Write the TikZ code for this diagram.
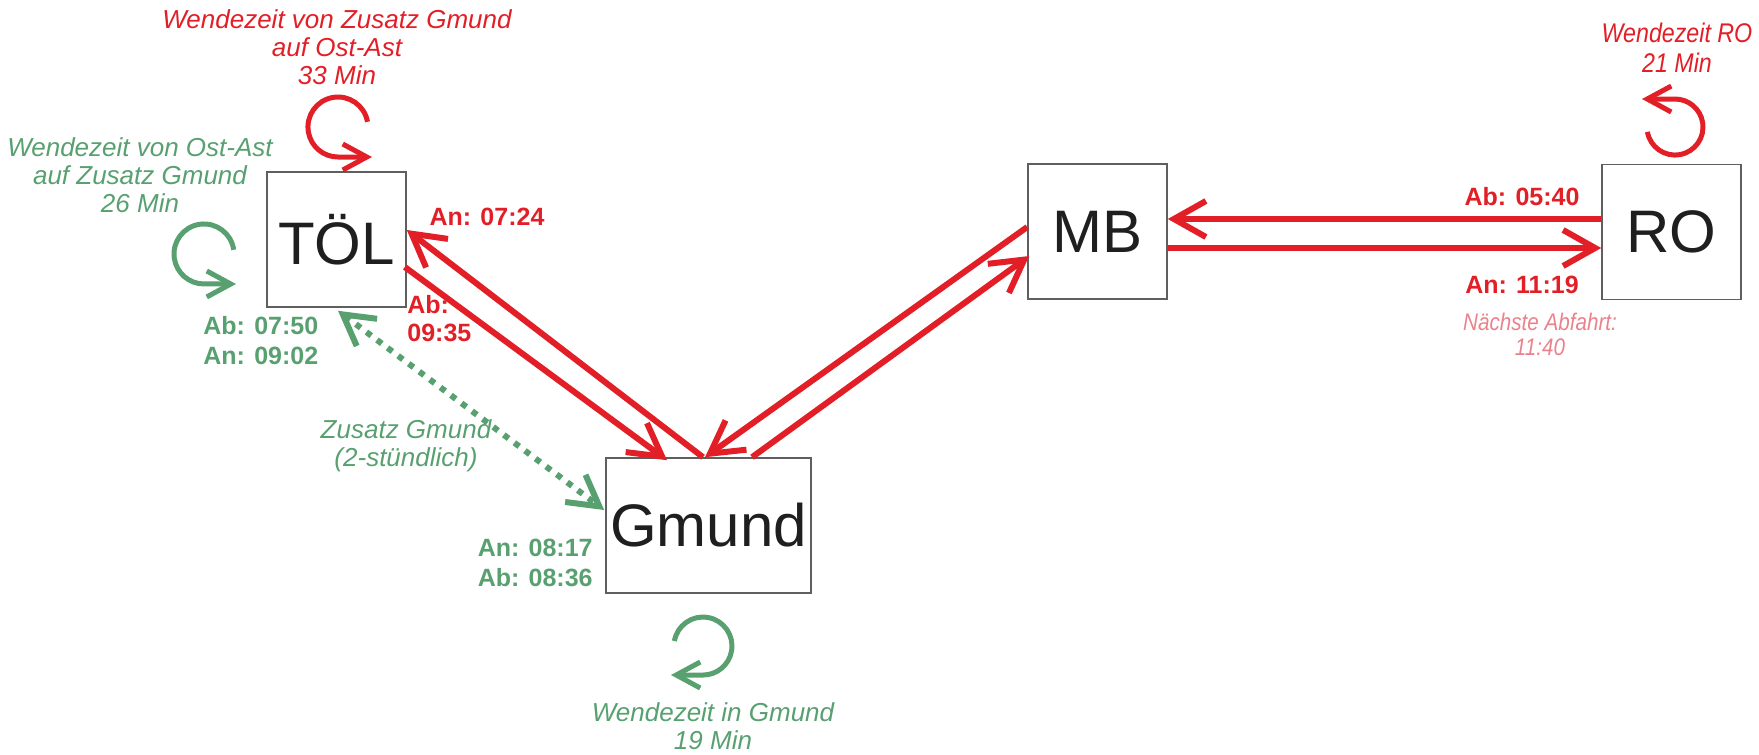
\documentclass[tikz,border=0pt]{standalone}
\usepackage{fontspec}
\setmainfont{Liberation Sans}
\newfontfamily\narrowfont[FakeStretch=0.86]{Liberation Sans}
\usetikzlibrary{arrows.meta,calc}
\definecolor{rred}{RGB}{226,30,38}
\definecolor{ggreen}{RGB}{88,160,112}
\definecolor{ppink}{RGB}{234,130,140}
\definecolor{boxgray}{RGB}{95,95,95}
\begin{document}
\begin{tikzpicture}[x=0.5pt,y=0.5pt,
  station/.style={draw=boxgray,line width=0.8pt,fill=white,inner sep=0pt,
    minimum width=69.5pt,minimum height=67.5pt,
    font=\fontsize{30}{36}\selectfont,text=black!88},
  bigarrow/.style={draw=rred,line width=3pt,-{Straight Barb[length=16pt,width=18pt]}},
  looparrow/.style={line width=2.5pt,-{Straight Barb[length=12pt,width=13pt]}},
  zusatz/.style={draw=ggreen,line width=3pt,dash pattern=on 3pt off 3.6pt,
    {Straight Barb[length=15pt,width=17pt]}-{Straight Barb[length=15pt,width=17pt]}},
  timered/.style={text=rred,inner sep=0pt,font=\fontsize{12.5}{14}\selectfont\bfseries},
  timegreen/.style={text=ggreen,inner sep=0pt,font=\fontsize{12.5}{15}\selectfont\bfseries},
  notered/.style={text=rred,inner sep=0pt,align=center,font=\fontsize{13}{14}\selectfont\itshape},
  notegreen/.style={text=ggreen,inner sep=0pt,align=center,font=\fontsize{13}{14}\selectfont\itshape},
  notenarrow/.style={inner sep=0pt,align=center,font=\narrowfont\itshape}
]
\useasboundingbox (0,0) rectangle (1759,-754);

% stations
\node[station] (tol) at (336.5,-239.5) {TÖL};
\node[station,minimum width=102.5pt] (gmund) at (708.5,-525.5) {Gmund};
\node[station] (mb) at (1097.5,-231.5) {MB};
\node[station] (ro) at (1671.5,-232) {RO};

% red connectors
\draw[bigarrow] ($(gmund.north)+(-5.5,0)$) -- ($(tol.east)+(0,9.5)$);
\draw[bigarrow] ($(tol.east)+(-2,-27.5)$) -- ($(gmund.north)+(-41.5,-3)$);
\draw[bigarrow] ($(mb.west)+(0,4.5)$) -- ($(gmund.north)+(-3.5,0)$);
\draw[bigarrow] ($(gmund.north)+(43.5,0)$) -- ($(mb.west)+(2,-24.5)$);
\draw[bigarrow] ($(ro.west)+(0,13)$) -- ($(mb.east)+(0,12.5)$);
\draw[bigarrow] ($(mb.east)+(0,-16.5)$) -- ($(ro.west)+(0,-16)$);

% green dotted connector
\draw[zusatz] ($(tol.south)+(1.5,-3)$) -- ($(gmund.west)+(-1,15.5)$);

% turnaround loops
\draw[looparrow,rred] (367.5,-121.8) arc[start angle=10,end angle=270,radius=30] -- (372,-157);
\draw[looparrow,ggreen] (233.7,-249.8) arc[start angle=8,end angle=270,radius=30] -- (236,-284);
\draw[looparrow,ggreen] (674.4,-641) arc[start angle=170,end angle=-90,radius=29] -- (671,-675);
\draw[looparrow,rred] (1647.4,-131.9) arc[start angle=190,end angle=450,radius=28] -- (1642,-99);

% loop notes
\node[notered] (n1) at (337,-47.5) {Wendezeit von Zusatz Gmund\\auf Ost-Ast\\33 Min};
\node[notegreen] (n2) at (140,-175) {Wendezeit von Ost-Ast\\auf Zusatz Gmund\\26 Min};
\node[notegreen] (n3) at (713,-726) {Wendezeit in Gmund\\19 Min};
\node[notenarrow,text=rred,font=\fontsize{13.5}{15}\selectfont\narrowfont\itshape] (n4) at (1677,-48) {Wendezeit RO\\21 Min};
\node[notegreen] (n5) at (406,-446) {Zusatz Gmund\\(2-stündlich)};
\node[notenarrow,text=ppink,font=\fontsize{12}{12.5}\selectfont\narrowfont\itshape] (n6) at (1540,-334) {Nächste Abfahrt:\\11:40};

% times
\node[timered] (t1) at (487,-217) {An: 07:24};
\node[timered,anchor=west,align=left] (t2) at (407,-319) {Ab:\\09:35};
\node[timegreen,anchor=west,align=left] (t3) at (203,-341) {Ab: 07:50\\An: 09:02};
\node[timegreen,anchor=east,align=right] (t4) at (593,-563) {An: 08:17\\Ab: 08:36};
\node[timered] (t5) at (1522,-197) {Ab: 05:40};
\node[timered] (t6) at (1522,-285) {An: 11:19};
\end{tikzpicture}
\end{document}
